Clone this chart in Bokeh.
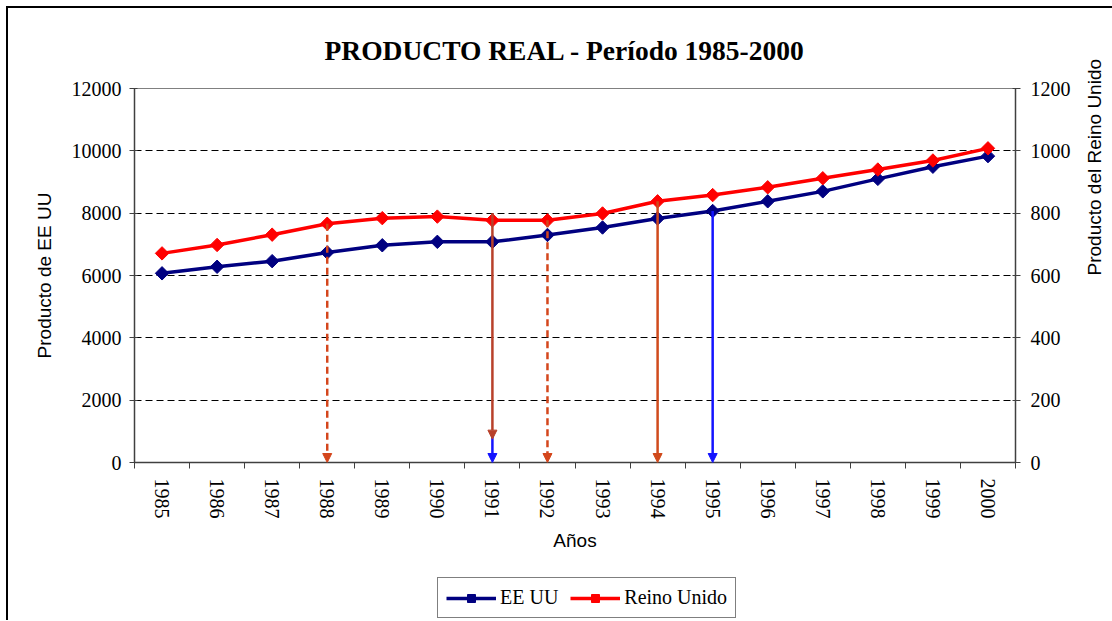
from math import pi
from bokeh.plotting import figure
from bokeh.layouts import column
from bokeh.models import (Range1d, LinearAxis, FixedTicker, Legend, LegendItem,
                          Arrow, NormalHead)
from bokeh.embed import file_html
from bokeh.resources import INLINE

# ---------------- data ----------------
years = list(range(1985, 2001))
ee_uu = [6070, 6280, 6460, 6740, 6970, 7080, 7080, 7300, 7540, 7830, 8070, 8380, 8700, 9100, 9490, 9830]
reino_unido = [671, 698, 731, 766, 784, 789, 777, 777, 799, 838, 858, 883, 912, 940, 969, 1008]

left_ticks = [0, 2000, 4000, 6000, 8000, 10000, 12000]
right_ticks = [0, 200, 400, 600, 800, 1000, 1200]

arrow_years = [1988, 1991, 1991, 1992, 1994, 1995]
arrow_axis = ["uk", "us", "uk", "uk", "uk", "us"]
arrow_start = [766, 900, 800, 777, 838, 8070]
arrow_end = [0, 0, 75, 0, 0, 0]

series_names = ["EE UU", "Reino Unido"]
series_values = [ee_uu, reino_unido]

# ---------------- styles ----------------
arrow_colors = ["#D4461C", "#1414FF", "#B8402A", "#D4461C", "#D04A1C", "#1414FF"]
arrow_dashes = ["7 4", "solid", "solid", "7 4", "solid", "solid"]
series_colors = ["#000080", "#FF0000"]

SERIF = "Liberation Serif"
SANS = "Liberation Sans"

p = figure(frame_width=879, frame_height=372, output_backend="svg", toolbar_location=None,
           x_range=Range1d(years[0] - 0.5, years[-1] + 0.5),
           y_range=Range1d(left_ticks[0], left_ticks[-1]),
           min_border_left=126, min_border_top=80, min_border_right=95,
           min_border_bottom=100)
p.extra_y_ranges = {"uk": Range1d(right_ticks[0], right_ticks[-1])}
p.styles = {"border-left": "2px solid black", "border-top": "2px solid black",
            "margin-left": "6px", "margin-top": "6px"}

p.background_fill_color = "white"
p.border_fill_color = "white"
p.outline_line_color = "#808080"
p.outline_line_width = 1

# title
p.title.text = "PRODUCTO REAL - Período 1985-2000"
p.title.text_font = SERIF
p.title.text_font_style = "bold"
p.title.text_font_size = "27.5px"
p.title.text_color = "black"
p.title.align = "left"
p.title.offset = 190
p.title.standoff = 46

# grid
p.xgrid.visible = False
p.ygrid.ticker = FixedTicker(ticks=left_ticks[1:-1])
p.ygrid.grid_line_color = "black"
p.ygrid.grid_line_dash = "7 4"
p.ygrid.grid_line_width = 1

# bottom axis: labels at year centres, ticks at boundaries (minor ticks)
xa = p.xaxis[0]
xa.ticker = FixedTicker(ticks=years,
                        minor_ticks=[y - 0.5 for y in years] + [years[-1] + 0.5])
xa.major_tick_line_color = None
xa.major_tick_out = 0
xa.major_tick_in = 0
xa.minor_tick_line_color = "#404040"
xa.minor_tick_out = 6
xa.minor_tick_in = 0
xa.axis_line_color = "#404040"
xa.axis_line_width = 1.5
xa.major_label_standoff = 10
xa.major_label_orientation = -pi / 2
xa.major_label_text_font = SERIF
xa.major_label_text_font_size = "20px"
xa.major_label_text_color = "black"
xa.axis_label = "Años"
xa.axis_label_text_font = SANS
xa.axis_label_text_font_size = "19px"
xa.axis_label_text_font_style = "normal"
xa.axis_label_text_color = "black"
xa.axis_label_standoff = 8

# left axis
ya = p.yaxis[0]
ya.ticker = FixedTicker(ticks=left_ticks)
ya.major_label_text_font = SERIF
ya.major_label_text_font_size = "20px"
ya.major_label_text_color = "black"
ya.major_tick_out = 5
ya.major_tick_in = 3
ya.minor_tick_line_color = None
ya.axis_line_color = "#404040"
ya.axis_line_width = 1.5
ya.major_tick_line_color = "#404040"
ya.major_label_standoff = 8
ya.axis_label = "Producto de EE UU"
ya.axis_label_text_font = SANS
ya.axis_label_text_font_size = "19px"
ya.axis_label_text_font_style = "normal"
ya.axis_label_text_color = "black"
ya.axis_label_standoff = 14

# right axis
yr = LinearAxis(y_range_name="uk", ticker=FixedTicker(ticks=right_ticks))
yr.major_label_text_font = SERIF
yr.major_label_text_font_size = "20px"
yr.major_label_text_color = "black"
yr.major_tick_out = 5
yr.major_tick_in = 3
yr.minor_tick_line_color = None
yr.axis_line_color = "#404040"
yr.axis_line_width = 1.5
yr.major_tick_line_color = "#404040"
yr.major_label_standoff = 10
yr.axis_label = "Producto del Reino Unido"
yr.axis_label_text_font = SANS
yr.axis_label_text_font_size = "19px"
yr.axis_label_text_font_style = "normal"
yr.axis_label_text_color = "black"
yr.axis_label_standoff = 21
yr.axis_label_orientation = pi / 2
p.add_layout(yr, "right")

# series
p.line(years, ee_uu, line_color=series_colors[0], line_width=3.5)
p.scatter(years, ee_uu, marker="square", angle=pi / 4, size=9.5,
          fill_color=series_colors[0], line_color=series_colors[0], line_width=1)
p.line(years, reino_unido, line_color=series_colors[1], line_width=3.5, y_range_name="uk")
p.scatter(years, reino_unido, marker="square", angle=pi / 4, size=9.5,
          fill_color=series_colors[1], line_color=series_colors[1], line_width=1,
          y_range_name="uk")

# arrows
for xv, ax, y0, y1, c, d in zip(arrow_years, arrow_axis, arrow_start, arrow_end,
                                arrow_colors, arrow_dashes):
    arr = Arrow(x_start=xv, y_start=y0, x_end=xv, y_end=y1,
                line_color=c, line_width=2.5, line_dash=d,
                end=NormalHead(size=9, fill_color=c, line_color=c, line_width=1))
    if ax == "uk":
        arr.y_range_name = "uk"
    p.add_layout(arr)

# ---------------- legend strip below the chart ----------------
p2 = figure(width=1100, height=60, output_backend="svg", toolbar_location=None,
            x_axis_type=None, y_axis_type=None, min_border=0,
            x_range=Range1d(0, 1), y_range=Range1d(0, 1))
p2.styles = {"border-left": "2px solid black", "margin-left": "6px"}
p2.outline_line_color = None
p2.background_fill_color = "white"
p2.border_fill_color = "white"
p2.grid.visible = False

items = []
for name, vals, col in zip(series_names, series_values, series_colors):
    # same series, outside this strip's visible range: only the legend keys show
    lr = p2.line(years, vals, line_color=col, line_width=3.5)
    sr = p2.scatter(years, vals, marker="square", angle=pi / 4, size=9.5,
                    fill_color=col, line_color=col, line_width=1)
    items.append(LegendItem(label=name, renderers=[lr, sr]))

legend = Legend(items=items, orientation="horizontal", location=(303, 2),
                label_text_font=SERIF, label_text_font_size="20px",
                label_text_color="black",
                border_line_color="black", border_line_width=1,
                glyph_width=50, glyph_height=20, spacing=12, label_standoff=4,
                padding=8, margin=0, background_fill_color="white")
p2.add_layout(legend)

layout = column(p, p2, spacing=0)

open("out.html", "w").write(file_html(layout, INLINE))
